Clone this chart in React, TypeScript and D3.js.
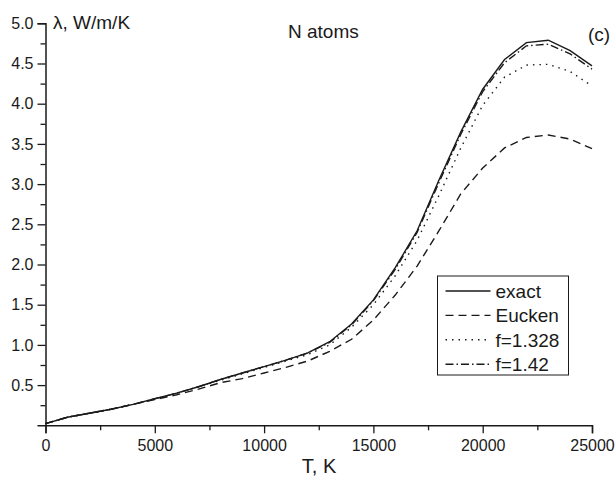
import { useEffect, useRef } from 'react';
import * as d3 from 'd3';

const temps = [0, 1000, 2000, 3000, 4000, 5000, 6000, 7000, 8000, 9000, 10000, 11000, 12000, 13000,
  14000, 15000, 16000, 17000, 18000, 19000, 20000, 21000, 22000, 23000, 24000, 25000];

const exact = [0.02, 0.1, 0.15, 0.2, 0.26, 0.33, 0.4, 0.48, 0.57, 0.65, 0.73, 0.81, 0.9, 1.04,
  1.26, 1.56, 1.96, 2.42, 3.05, 3.65, 4.18, 4.55, 4.76, 4.79, 4.66, 4.47];
const eucken = [0.02, 0.1, 0.15, 0.2, 0.26, 0.32, 0.38, 0.45, 0.53, 0.58, 0.65, 0.72, 0.8, 0.92,
  1.07, 1.31, 1.62, 1.98, 2.42, 2.88, 3.2, 3.45, 3.58, 3.61, 3.56, 3.44];
const f1328 = [0.02, 0.1, 0.15, 0.2, 0.26, 0.33, 0.4, 0.48, 0.56, 0.64, 0.72, 0.8, 0.88, 1.0,
  1.22, 1.5, 1.86, 2.3, 2.86, 3.45, 3.98, 4.33, 4.48, 4.49, 4.4, 4.22];
const f142 = [0.02, 0.1, 0.15, 0.2, 0.26, 0.33, 0.4, 0.48, 0.57, 0.65, 0.73, 0.81, 0.9, 1.03,
  1.25, 1.55, 1.94, 2.4, 3.02, 3.62, 4.15, 4.51, 4.72, 4.74, 4.62, 4.43];

const seriesNames = ['exact', 'Eucken', 'f=1.328', 'f=1.42'];
const seriesDash = ['none', '8,5', '1.5,5', '8,3,1.5,3'];
const xTicks = [0, 5000, 10000, 15000, 20000, 25000];
const yTicks = [0.5, 1.0, 1.5, 2.0, 2.5, 3.0, 3.5, 4.0, 4.5, 5.0];

const W = 616, H = 485;
const ink = '#1a1a1a';
const font = '"Liberation Sans", Arial, sans-serif';

export default function App() {
  const ref = useRef<SVGSVGElement>(null);

  useEffect(() => {
    const svg = d3.select(ref.current);
    svg.selectAll('*').remove();

    const x = d3.scaleLinear().domain([0, 25000]).range([45.5, 592]);
    const y = d3.scaleLinear().domain([0, 5]).range([425.3, 23.3]);

    const xAxis = d3.axisBottom(x).tickValues(xTicks).tickSize(8).tickPadding(6).tickFormat(d3.format('d'));
    const xMinor = d3.axisBottom(x).tickValues(d3.range(2500, 25000, 5000)).tickSize(5).tickFormat(() => '');
    const yAxis = d3.axisLeft(y).tickValues(yTicks).tickSize(8).tickPadding(4).tickFormat(d3.format('.1f'));
    const yMinor = d3.axisLeft(y).tickValues(d3.range(0.25, 5, 0.5)).tickSize(5).tickFormat(() => '');

    const g = svg.append('g');
    const styleAxis = (sel: any) => {
      sel.selectAll('path').attr('stroke', ink).attr('stroke-width', 1.5);
      sel.selectAll('line').attr('stroke', ink).attr('stroke-width', 1.3);
      sel.selectAll('text').attr('fill', ink).style('font-family', font).style('font-size', '16px');
    };

    g.append('g').attr('transform', `translate(0,${y(0)})`).call(xMinor).call(styleAxis)
      .select('.domain').remove();
    g.append('g').attr('transform', `translate(0,${y(0)})`).call(xAxis).call(styleAxis);
    g.append('g').attr('transform', `translate(${x(0)},0)`).call(yMinor).call(styleAxis)
      .select('.domain').remove();
    g.append('g').attr('transform', `translate(${x(0)},0)`).call(yAxis).call(styleAxis);

    const series = [exact, eucken, f1328, f142];
    const line = d3.line<number>().x((_, i) => x(temps[i])).y((d) => y(d));

    series.forEach((s, k) => {
      g.append('path')
        .datum(s)
        .attr('d', line)
        .attr('fill', 'none')
        .attr('stroke', ink)
        .attr('stroke-width', 1.4)
        .attr('stroke-dasharray', seriesDash[k]);
    });

    // legend
    const lg = g.append('g').attr('transform', 'translate(437.5,276)');
    lg.append('rect').attr('width', 131).attr('height', 99)
      .attr('fill', 'white').attr('stroke', ink).attr('stroke-width', 1);
    seriesNames.forEach((name, k) => {
      const yy = 15 + k * 24.4;
      lg.append('line').attr('x1', 8).attr('x2', 53).attr('y1', yy).attr('y2', yy)
        .attr('stroke', ink).attr('stroke-width', 1.4).attr('stroke-dasharray', seriesDash[k]);
      lg.append('text').attr('x', 58).attr('y', yy + 7).text(name)
        .attr('fill', ink).style('font-family', font).style('font-size', '19px');
    });

    const label = (tx: number, ty: number, t: string, size: number, anchor = 'start') =>
      g.append('text').attr('x', tx).attr('y', ty).text(t).attr('text-anchor', anchor)
        .attr('fill', ink).style('font-family', font).style('font-size', `${size}px`);

    label(53, 29, 'λ, W/m/K', 19);
    label(288, 38, 'N atoms', 19);
    label(588, 41, '(c)', 19);
    label(319, 473, 'T, K', 20, 'middle');
  }, []);

  return (
    <svg ref={ref} width={W} height={H} viewBox={`0 0 ${W} ${H}`}
      style={{ position: 'absolute', left: 0, top: 0, background: 'white' }} />
  );
}
